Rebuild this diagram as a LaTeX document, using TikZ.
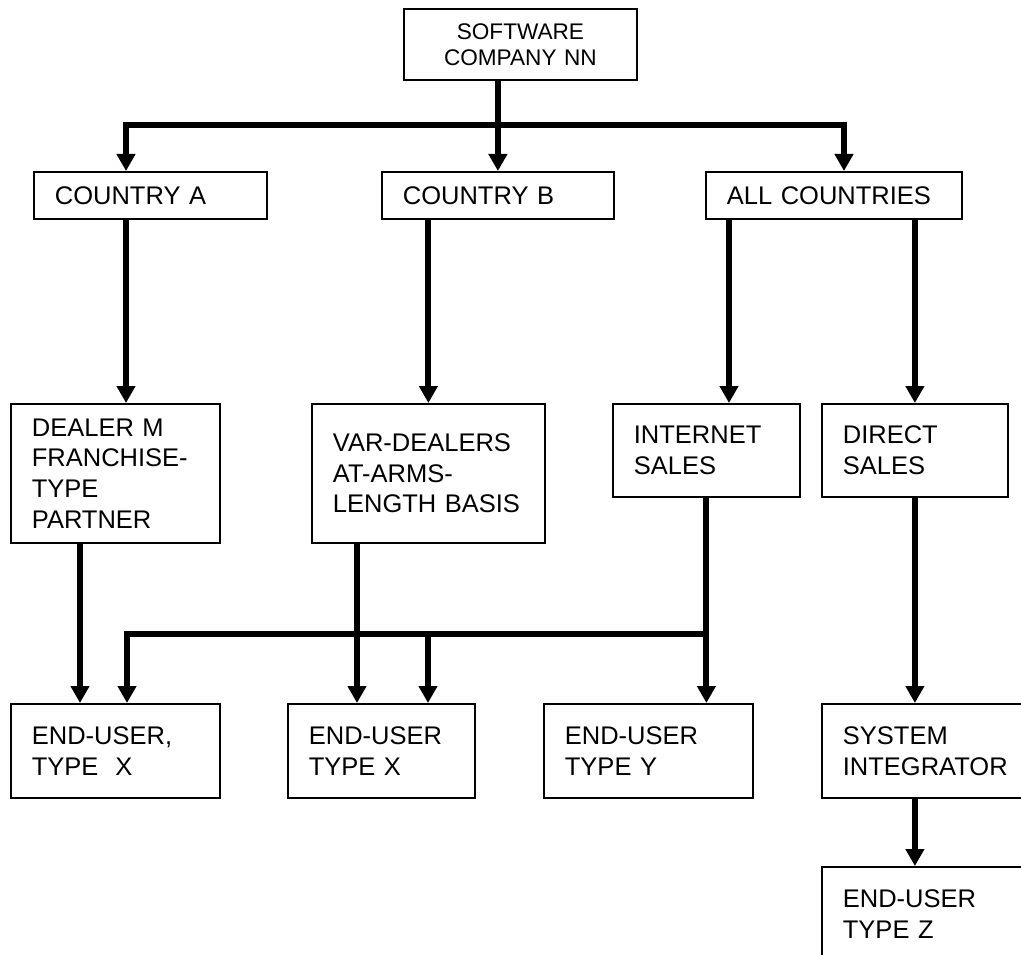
\documentclass[tikz,border=0pt]{standalone}
\usepackage{fontspec}
\setmainfont{Liberation Sans}
\usepackage{tikz}
\usetikzlibrary{
  arrows.meta,
  positioning
}
\newcommand\chartsize{\fontsize{25.5pt}{30.7pt}\selectfont}
\newcommand\headsize{\fontsize{22.6pt}{26pt}\selectfont}
\tikzset{
box/.style={
  draw,
  line width=1.8pt,
  anchor=north west,
  inner xsep=21pt,
  inner ysep=0pt,
  align=left,
  font=\chartsize
},
headbox/.style={
  box,
  align=center,
  font=\headsize
},
conn/.style={
  -{Triangle[length=17pt,width=18pt]},
  line width=6pt
}
}

\begin{document}
\begin{tikzpicture}[x=1pt,y=-1pt]
  \useasboundingbox (0,0) rectangle (1021,955);
  \fill[white] (0,0) rectangle (1021,955);
  \clip (0,0) rectangle (1021,955);

  % boxes
  \node[headbox, text width=191pt, minimum height=71pt] (sw) at (403,8) {SOFTWARE\\COMPANY NN};

  \node[box, text width=191pt, minimum height=47pt] (ctyA) at (33,171) {COUNTRY A};
  \node[box, text width=190pt, minimum height=47pt] (ctyB) at (381,171) {COUNTRY B};
  \node[box, text width=214pt, minimum height=47pt] (allc) at (705,171) {ALL COUNTRIES};

  \node[box, text width=167pt, minimum height=139pt] (dealer) at (10,403) {DEALER M\\FRANCHISE-\\TYPE\\PARTNER};
  \node[box, text width=191pt, minimum height=139pt] (var) at (311,403) {VAR-DEALERS\\AT-ARMS-\\LENGTH BASIS};
  \node[box, text width=145pt, minimum height=93pt] (inet) at (612,403) {INTERNET\\SALES};
  \node[box, text width=144pt, minimum height=93pt] (direct) at (821,403) {DIRECT\\SALES};

  \node[box, text width=167pt, minimum height=94pt] (euxa) at (10,703) {END-USER,\\TYPE\ \ X};
  \node[box, text width=145pt, minimum height=94pt] (euxb) at (287,703) {END-USER\\TYPE X};
  \node[box, text width=167pt, minimum height=94pt] (euy) at (543,703) {END-USER\\TYPE Y};
  \node[box, text width=178pt, minimum height=94pt] (sysint) at (821,703) {SYSTEM\\INTEGRATOR};
  \node[box, text width=178pt, minimum height=94pt] (euz) at (821,866) {END-USER\\TYPE Z};

  % junctions of the connectors
  \coordinate (busA) at (126,125);
  \coordinate (busC) at (844,125);
  \coordinate (xI) at (729,0);
  \coordinate (xD) at (80,0);
  \coordinate (xV) at (357,0);
  \coordinate (lowA) at (127,634);
  \coordinate (lowB) at (428,634);
  \coordinate (lowI) at (inet.south |- lowA);

  % connectors
  \draw[conn] (sw.south -| ctyB.north) -- (ctyB.north);
  \draw[conn,{Triangle[length=17pt,width=18pt]}-{Triangle[length=17pt,width=18pt]}]
    (ctyA.north -| busA) -- (busA) -- (busC) -- (allc.north -| busC);

  \draw[conn] (ctyA.south -| busA) -- (dealer.north -| busA);
  \draw[conn] (ctyB.south -| var.north) -- (var.north);
  \draw[conn] (allc.south -| xI) -- (inet.north -| xI);
  \draw[conn] (allc.south -| direct.north) -- (direct.north);

  \draw[conn] (dealer.south -| xD) -- (euxa.north -| xD);
  \draw[conn] (var.south -| xV) -- (euxb.north -| xV);
  \draw[conn] (inet.south) -- (euy.north -| inet.south);
  \draw[conn] (lowI) -- (lowA) -- (euxa.north -| lowA);
  \draw[conn] (lowB) -- (euxb.north -| lowB);

  \draw[conn] (direct.south) -- (sysint.north -| direct.south);
  \draw[conn] (sysint.south -| direct.south) -- (euz.north -| direct.south);
\end{tikzpicture}
\end{document}
